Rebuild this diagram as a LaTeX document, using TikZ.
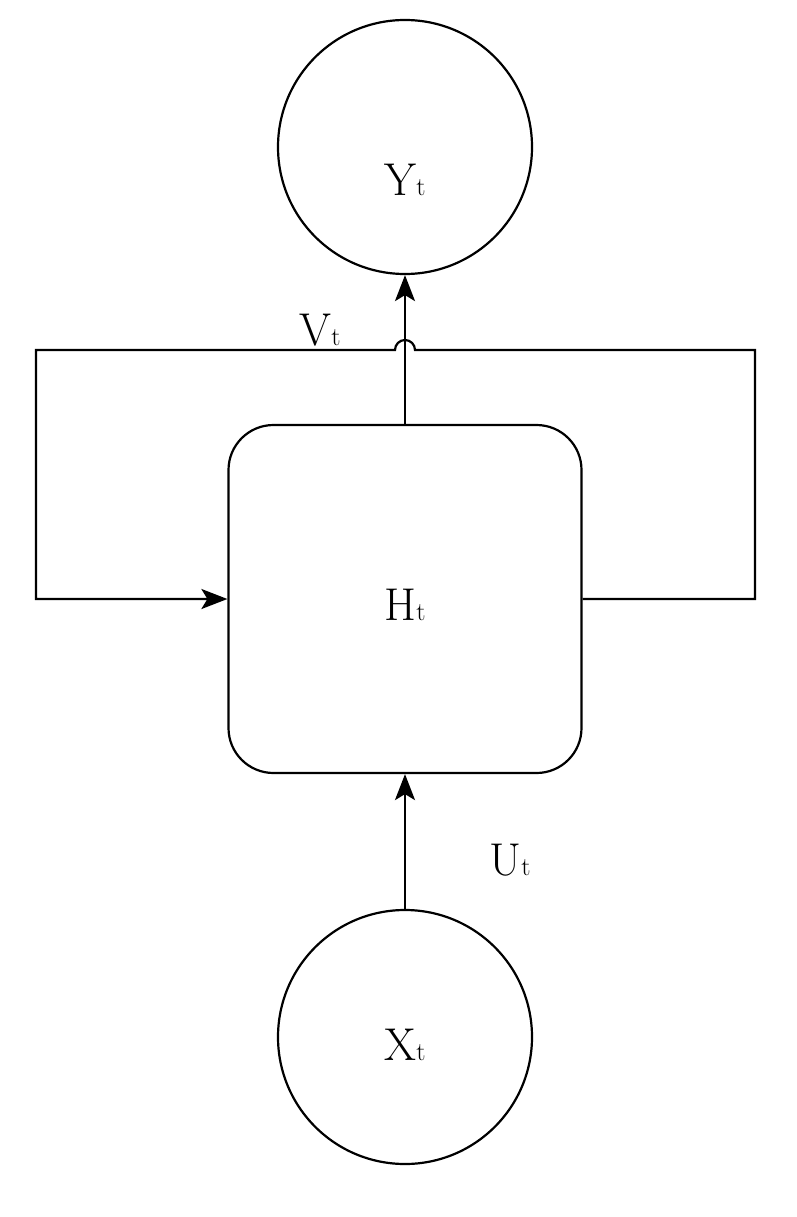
\documentclass[tikz,border=0pt]{standalone}
\usetikzlibrary{arrows.meta}
\begin{document}
\begin{tikzpicture}[x=1pt,y=-1pt,line width=2.2pt,
  circ/.style={draw,circle,minimum size=254pt,inner sep=0pt},
  lbl/.style={font=\fontsize{46}{50}\selectfont},
  arr/.style={-{Stealth[length=26pt,width=20pt,inset=6pt]}}]
\useasboundingbox (0,0) rectangle (797,1217);
\newcommand{\sbt}{{\fontsize{26}{28}\selectfont t}}
\node[circ] (Y) at (405,147) {};
\node[circ] (X) at (405,1037) {};
\node[draw,rounded corners=45pt,minimum width=353pt,minimum height=348pt] (H) at (405,599) {};
\node[lbl] at (405,180) {Y\sbt};
\node[lbl] at (405,605) {H\sbt};
\node[lbl] at (405,1045) {X\sbt};
\node[lbl] at (320,330) {V\sbt};
\node[lbl] at (510,860) {U\sbt};
\coordinate (hop) at (405,350);
\draw[arr] (H.north) -- (Y.south);
\draw[arr] (X.north) -- (H.south);
\draw[arr] (H.east) -- (755,599) -- (755,350) -- ([xshift=10pt]hop) arc (0:-180:10) -- (36,350) -- (36,599) -- (H.west);
\end{tikzpicture}
\end{document}
